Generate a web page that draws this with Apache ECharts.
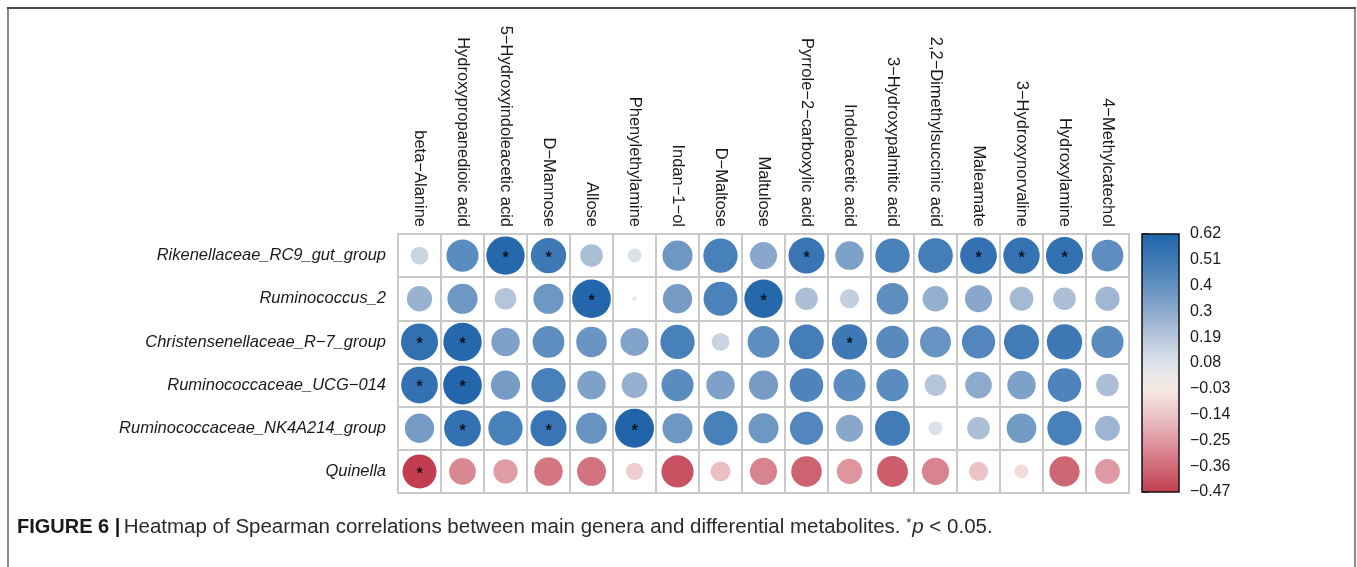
<!DOCTYPE html>
<html>
<head>
<meta charset="utf-8">
<title>Spearman correlations: genera vs metabolites</title>
<script src="https://cdn.jsdelivr.net/npm/echarts@6/dist/echarts.min.js"></script>
<style>
  html, body { margin: 0; padding: 0; background: #ffffff; }
  #chart { width: 1357px; height: 567px; }
</style>
</head>
<body>
<div id="chart"></div>
<script>
// Column categories: differential metabolites
const metabolites = [
  'beta−Alanine', 'Hydroxypropanedioic acid', '5−Hydroxyindoleacetic acid', 'D−Mannose',
  'Allose', 'Phenylethylamine', 'Indan−1−ol', 'D−Maltose', 'Maltulose',
  'Pyrrole−2−carboxylic acid', 'Indoleacetic acid', '3−Hydroxypalmitic acid',
  '2,2−Dimethylsuccinic acid', 'Maleamate', '3−Hydroxynorvaline', 'Hydroxylamine', '4−Methylcatechol'
];

// Row categories: main genera
const genera = [
  'Rikenellaceae_RC9_gut_group', 'Ruminococcus_2', 'Christensenellaceae_R−7_group',
  'Ruminococcaceae_UCG−014', 'Ruminococcaceae_NK4A214_group', 'Quinella'
];

// Spearman r of each genus against the metabolites (same order as `metabolites`)
const rikenellaceaeRC9 = [0.13, 0.42, 0.60, 0.51, 0.21, 0.08, 0.37, 0.48, 0.30, 0.53, 0.33, 0.48, 0.49, 0.55, 0.54, 0.56, 0.41];
const ruminococcus2    = [0.26, 0.37, 0.19, 0.37, 0.61, -0.01, 0.35, 0.47, 0.60, 0.21, 0.15, 0.41, 0.27, 0.30, 0.23, 0.21, 0.24];
const christensenella  = [0.56, 0.60, 0.33, 0.41, 0.38, 0.32, 0.48, 0.13, 0.41, 0.49, 0.51, 0.43, 0.39, 0.45, 0.50, 0.51, 0.42];
const ruminoUCG014     = [0.55, 0.61, 0.35, 0.48, 0.33, 0.27, 0.42, 0.33, 0.35, 0.46, 0.42, 0.42, 0.19, 0.29, 0.33, 0.46, 0.21];
const ruminoNK4A214    = [0.35, 0.55, 0.48, 0.53, 0.39, 0.62, 0.37, 0.48, 0.37, 0.45, 0.30, 0.50, 0.08, 0.21, 0.36, 0.48, 0.25];
const quinella         = [-0.47, -0.29, -0.24, -0.33, -0.34, -0.12, -0.42, -0.16, -0.30, -0.38, -0.26, -0.39, -0.30, -0.15, -0.08, -0.37, -0.25];

// Metabolite indices with p < 0.05 for each genus
const sigRikenellaceaeRC9 = [2, 3, 9, 13, 14, 15];
const sigRuminococcus2    = [4, 8];
const sigChristensenella  = [0, 1, 10];
const sigRuminoUCG014     = [0, 1];
const sigRuminoNK4A214    = [1, 3, 5];
const sigQuinella         = [0];

// Colour legend tick labels (top to bottom)
const legendLabels = ['0.62', '0.51', '0.4', '0.3', '0.19', '0.08', '−0.03', '−0.14', '−0.25', '−0.36', '−0.47'];
const legendMin = -0.47;
const legendMax = 0.62;
// Diverging palette, low to high, one colour per legend tick
const palette = ['#c13d4f', '#d06a77', '#de98a1', '#ecc5c8', '#f6e9e4', '#dde2ea',
                 '#b6c6da', '#8ca9cc', '#6190c1', '#3e79b6', '#2164aa'];

const rowValues = [rikenellaceaeRC9, ruminococcus2, christensenella, ruminoUCG014, ruminoNK4A214, quinella];
const rowSig = [sigRikenellaceaeRC9, sigRuminococcus2, sigChristensenella, sigRuminoUCG014, sigRuminoNK4A214, sigQuinella];

const cells = [];
rowValues.forEach((vals, r) => vals.forEach((v, c) => cells.push([c, r, v])));
const stars = [];
rowSig.forEach((cols, r) => cols.forEach(c => stars.push([c, r, rowValues[r][c]])));

// circle area scales with |r| relative to the largest magnitude on the legend
const sizeRef = Math.max(Math.abs(legendMin), Math.abs(legendMax));
const maxDiameter = 39;

const FONT = '"Liberation Sans", Arial, Helvetica, sans-serif';
const GRID = { left: 398, top: 234, width: 731, height: 259 };

const chart = echarts.init(document.getElementById('chart'), null, { renderer: 'canvas' });

chart.setOption({
  animation: false,
  backgroundColor: '#ffffff',
  grid: [
    { left: GRID.left, top: GRID.top, width: GRID.width, height: GRID.height,
      show: true, borderColor: '#c9c9c9', borderWidth: 2, containLabel: false },
    { left: 1142, top: 234, width: 37, height: 258, containLabel: false }
  ],
  xAxis: [
    {
      gridIndex: 0, type: 'category', data: metabolites, position: 'top',
      axisLine: { show: false }, axisTick: { show: false },
      axisLabel: { rotate: 90, interval: 0, margin: 7, fontSize: 16.5, color: '#1a1a1a', fontFamily: FONT },
      splitLine: { show: true, interval: 0, lineStyle: { color: '#c9c9c9', width: 2 } }
    },
    { gridIndex: 1, type: 'value', min: 0, max: 1, show: false }
  ],
  yAxis: [
    {
      gridIndex: 0, type: 'category', data: genera, inverse: true,
      axisLine: { show: false }, axisTick: { show: false },
      axisLabel: { interval: 0, margin: 12, fontSize: 16.5, fontStyle: 'italic', color: '#1a1a1a', fontFamily: FONT },
      splitLine: { show: true, interval: 0, lineStyle: { color: '#c9c9c9', width: 2 } }
    },
    {
      gridIndex: 1, type: 'category', data: legendLabels, inverse: true, boundaryGap: false,
      position: 'right',
      axisLine: { show: false },
      axisTick: { show: true, interval: 0, length: 7, inside: false, lineStyle: { color: '#111', width: 1.5 } },
      axisLabel: { interval: 0, margin: 11, fontSize: 16, color: '#1a1a1a', fontFamily: FONT },
      splitLine: { show: false }
    }
  ],
  visualMap: {
    type: 'continuous', show: false, seriesIndex: 0, dimension: 2,
    min: legendMin, max: legendMax, inRange: { color: palette }
  },
  series: [
    {
      name: 'Spearman r', type: 'scatter', xAxisIndex: 0, yAxisIndex: 0,
      data: cells,
      symbol: 'circle',
      symbolSize: d => maxDiameter * Math.sqrt(Math.abs(d[2]) / sizeRef),
      itemStyle: { opacity: 1 },
      silent: true
    },
    {
      name: 'p < 0.05', type: 'scatter', xAxisIndex: 0, yAxisIndex: 0,
      data: stars, symbolSize: 1,
      itemStyle: { color: 'rgba(0,0,0,0)' },
      label: {
        show: true, position: 'inside', formatter: '*', offset: [0, 3],
        fontSize: 16, fontWeight: 'bold', color: '#000', fontFamily: FONT
      },
      silent: true, z: 5
    },
    {
      name: 'legend bar', type: 'custom', xAxisIndex: 1, yAxisIndex: 1,
      data: [[0, 0]], silent: true,
      renderItem: (params, api) => {
        const topLeft = api.coord([0, 0]);
        const bottomRight = api.coord([1, legendLabels.length - 1]);
        const stops = palette.slice().reverse().map((c, i) => ({ offset: i / (palette.length - 1), color: c }));
        return {
          type: 'rect',
          shape: { x: topLeft[0], y: topLeft[1], width: bottomRight[0] - topLeft[0], height: bottomRight[1] - topLeft[1] },
          style: {
            fill: { type: 'linear', x: 0, y: 0, x2: 0, y2: 1, colorStops: stops },
            stroke: '#111', lineWidth: 1.5
          }
        };
      }
    }
  ],
  graphic: [
    { type: 'line', shape: { x1: 8, y1: 8, x2: 8, y2: 567 }, style: { stroke: '#8a8a8a', lineWidth: 2 } },
    { type: 'line', shape: { x1: 1355, y1: 8, x2: 1355, y2: 567 }, style: { stroke: '#8a8a8a', lineWidth: 2 } },
    { type: 'line', shape: { x1: 7, y1: 8, x2: 1356, y2: 8 }, style: { stroke: '#4a4a4a', lineWidth: 2 } },
    {
      type: 'text', left: 17, top: 517,
      style: {
        text: '{b|FIGURE 6 |} {n|Heatmap of Spearman correlations between main genera and differential metabolites. }{s|*}{i|p}{n| < 0.05.}',
        rich: {
          b: { fontFamily: '"Liberation Sans Narrow", ' + FONT, fontWeight: 'bold', fontSize: 20, fill: '#1a1a1a' },
          n: { fontFamily: FONT, fontSize: 20.5, fill: '#2a2a2a' },
          i: { fontFamily: FONT, fontSize: 20.5, fontStyle: 'italic', fill: '#2a2a2a' },
          s: { fontFamily: FONT, fontSize: 13, fill: '#2a2a2a', verticalAlign: 'top', padding: [0, 1, 7, 0] }
        }
      }
    }
  ]
});
</script>
</body>
</html>
